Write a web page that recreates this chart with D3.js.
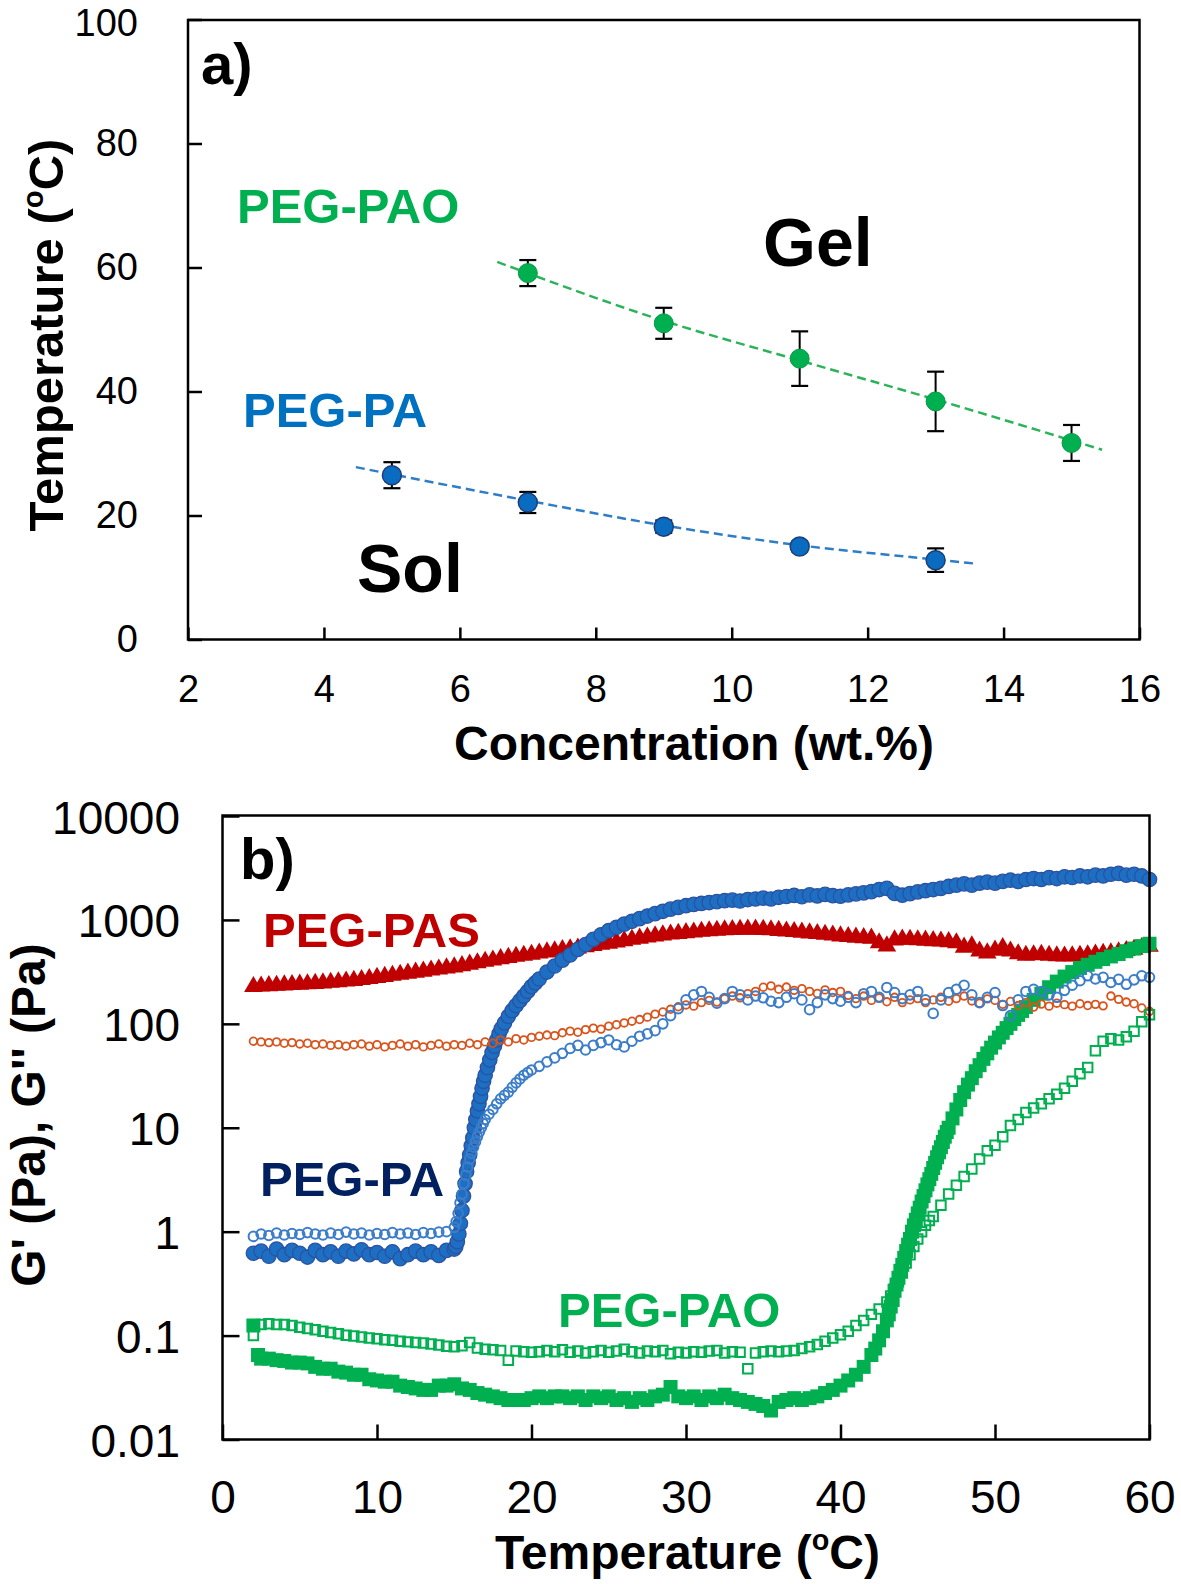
<!DOCTYPE html>
<html><head><meta charset="utf-8">
<script src="https://cdn.jsdelivr.net/npm/d3@7"></script>
<style>
html,body{margin:0;padding:0;background:#fff;}
svg{display:block;font-family:"Liberation Sans",Arial,sans-serif;}
</style></head><body>
<svg id="chart" width="1181" height="1584"></svg>
<script>
// ---------- Panel a data ----------
const concTicks = [2, 4, 6, 8, 10, 12, 14, 16];
const tempTicksA = [0, 20, 40, 60, 80, 100];
const concPAO = [7, 9, 11, 13, 15];
const tgelPAO = [59.1, 51.0, 45.3, 38.4, 31.7];
const errPAO = [2.1, 2.5, 4.4, 4.8, 2.9];
const concPA = [5, 7, 9, 11, 13];
const tgelPA = [26.5, 22.1, 18.2, 15.0, 12.8];
const errPA = [2.1, 1.7, 1.0, 0.8, 1.9];
const fitPAO = [[6.55, 60.9], [9, 51.4], [11, 45.0], [13, 38.7], [15.45, 30.6]];
const fitPA = [[4.47, 27.8], [7, 22.4], [9, 18.4], [11, 15.2], [13, 12.9], [13.62, 12.2]];

// ---------- Panel b data ----------
const tempTicksB = [0, 10, 20, 30, 40, 50, 60];
const modTicks = [0.01, 0.1, 1, 10, 100, 1000, 10000];
const modTickLabels = ["0.01", "0.1", "1", "10", "100", "1000", "10000"];

// PEG-PAS G' (filled triangles)
const pasGp = [[2,228],[2.5,230],[3,232],[3.5,234],[4,236],[4.5,238],[5,240],[5.5,242],[6,244],[6.5,247],[7,250],[7.5,253],[8,257],[8.5,261],[9,266],[9.5,272],[10,279],[10.5,285],[11,292],[11.5,299],[12,306],[12.5,313],[13,320],[13.5,328],[14,336],[14.5,344],[15,352],[15.5,362],[16,374],[16.5,386],[17,398],[17.5,410],[18,422],[18.5,434],[19,445],[19.5,455],[20,465],[20.5,478],[21,490],[21.5,502],[22,515],[22.5,525],[23,535],[23.5,550],[24,565],[24.5,580],[25,595],[25.5,612],[26,630],[26.5,648],[27,665],[27.5,682],[28,700],[28.5,714],[29,728],[29.5,740],[30,752],[30.5,763],[31,774],[31.5,784],[32,792],[32.5,800],[33,806],[33.5,810],[34,812],[34.5,812],[35,808],[35.5,800],[36,790],[36.5,780],[37,770],[37.5,760],[38,748],[38.5,736],[39,725],[39.5,712],[40,700],[40.5,690],[41,680],[41.5,672],[42,665],[42.5,600],[43,560],[43.5,640],[44,650],[44.5,648],[45,642],[45.5,636],[46,630],[46.5,625],[47,615],[47.5,600],[48,545],[48.5,560],[49,500],[49.5,480],[50,510],[50.5,540],[51,500],[51.5,470],[52,455],[52.5,460],[53,465],[53.5,455],[54,450],[54.5,448],[55,450],[55.5,455],[56,460],[56.5,468],[57,475],[57.5,480],[58,490],[58.5,505],[59,520],[59.5,540],[60,555]];

// PEG-PAS G'' (small open circles)
const pasGpp = [[2,68],[2.5,67],[3,66],[3.5,67],[4,65],[4.5,66],[5,64],[5.5,65],[6,63],[6.5,64],[7,62],[7.5,63],[8,61],[8.5,63],[9,64],[9.5,61],[10,63],[10.5,60],[11,62],[11.5,64],[12,61],[12.5,63],[13,60],[13.5,62],[14,64],[14.5,61],[15,63],[15.5,62],[16,65],[16.5,63],[17,67],[17.5,65],[18,70],[18.5,67],[19,72],[19.5,70],[20,74],[20.5,76],[21,78],[21.5,77],[22,82],[22.5,85],[23,83],[23.5,88],[24,91],[24.5,89],[25,95],[25.5,98],[26,102],[26.5,106],[27,110],[27.5,116],[28,124],[28.5,130],[29,138],[29.5,146],[30,152],[30.5,148],[31,160],[31.5,168],[32,162],[32.5,175],[33,185],[33.5,178],[34,195],[34.5,205],[35,225],[35.5,232],[36,215],[36.5,226],[37,210],[37.5,218],[38,205],[38.5,196],[39,212],[39.5,200],[40,205],[40.5,188],[41,175],[41.5,185],[42,168],[42.5,178],[43,163],[43.5,180],[44,160],[44.5,170],[45,175],[45.5,160],[46,170],[46.5,180],[47,165],[47.5,175],[48,185],[48.5,166],[49,158],[49.5,174],[50,168],[50.5,154],[51,164],[51.5,150],[52,160],[52.5,145],[53,155],[53.5,148],[54,158],[54.5,153],[55,148],[55.5,156],[56,150],[56.5,154],[57,149],[57.5,185],[58,172],[58.5,162],[59,156],[59.5,142],[60,132]];

// PEG-PA G' (filled circles)
const paGp = [[2,0.62],[2.5,0.65],[3,0.58],[3.5,0.68],[4,0.6],[4.5,0.66],[5,0.62],[5.5,0.57],[6,0.66],[6.5,0.6],[7,0.64],[7.5,0.58],[8,0.65],[8.5,0.61],[9,0.67],[9.5,0.6],[10,0.63],[10.5,0.58],[11,0.64],[11.5,0.55],[12,0.6],[12.5,0.65],[13,0.6],[13.5,0.64],[14,0.59],[14.5,0.66],[15,0.68],[15.1,0.72],[15.2,0.8],[15.3,0.95],[15.4,1.2],[15.5,1.6],[15.6,2.2],[15.7,2.9],[15.8,3.8],[15.9,4.6],[16,5.5],[16.1,6.7],[16.2,8],[16.3,10],[16.4,12],[16.5,14.5],[16.6,17],[16.7,20],[16.8,24],[16.9,28],[17,32],[17.15,38],[17.3,45],[17.45,53],[17.6,61],[17.75,70],[17.9,80],[18.05,90],[18.25,102],[18.5,118],[18.75,134],[19,150],[19.25,167],[19.5,185],[19.75,205],[20,228],[20.25,248],[20.5,270],[21,315],[21.5,360],[22,410],[22.5,460],[23,520],[23.5,580],[24,650],[24.5,720],[25,790],[25.5,850],[26,910],[26.5,970],[27,1030],[27.5,1090],[28,1150],[28.5,1210],[29,1270],[29.5,1320],[30,1370],[30.5,1410],[31,1440],[31.5,1470],[32,1500],[32.5,1530],[33,1550],[33.5,1520],[34,1570],[34.5,1590],[35,1620],[35.5,1590],[36,1650],[36.5,1680],[37,1720],[37.5,1670],[38,1740],[38.5,1700],[39,1760],[39.5,1710],[40,1690],[40.5,1740],[41,1780],[41.5,1820],[42,1870],[42.5,1960],[43,2010],[43.5,1800],[44,1730],[44.5,1790],[45,1860],[45.5,1910],[46,1960],[46.5,2010],[47,2100],[47.5,2160],[48,2220],[48.5,2160],[49,2260],[49.5,2310],[50,2260],[50.5,2350],[51,2410],[51.5,2350],[52,2450],[52.5,2500],[53,2450],[53.5,2550],[54,2500],[54.5,2600],[55,2560],[55.5,2650],[56,2600],[56.5,2700],[57,2650],[57.5,2750],[58,2800],[58.5,2700],[59,2750],[59.5,2650],[60,2450]];

// PEG-PA G'' (open circles)
const paGpp = [[2,0.9],[2.5,0.95],[3,0.92],[3.5,0.97],[4,0.93],[4.5,0.96],[5,0.94],[5.5,0.98],[6,0.95],[6.5,0.93],[7,0.97],[7.5,0.94],[8,0.99],[8.5,0.95],[9,0.97],[9.5,0.93],[10,0.96],[10.5,0.94],[11,0.98],[11.5,0.95],[12,0.97],[12.5,0.94],[13,0.98],[13.5,0.96],[14,0.99],[14.5,1.0],[15,1.1],[15.125,1.25],[15.25,1.5],[15.375,1.9],[15.5,2.3],[15.625,2.9],[15.75,3.5],[15.875,4.2],[16,5.0],[16.125,5.7],[16.25,6.5],[16.375,7.3],[16.5,8.2],[16.625,9.1],[16.75,10],[16.875,11],[17,12],[17.25,13.5],[17.5,15],[17.75,17],[18,19],[18.25,20.5],[18.5,22],[18.75,24.5],[19,27],[19.25,29.5],[19.5,32],[19.75,34],[20,36],[20.5,39],[21,43],[21.5,47],[22,52],[22.5,58],[23,62],[23.5,56],[24,62],[24.5,66],[25,70],[25.5,63],[26,60],[26.5,68],[27,76],[27.5,80],[28,86],[28.5,100],[29,120],[29.5,140],[30,170],[30.5,190],[31,205],[31.5,180],[32,158],[32.5,175],[33,205],[33.5,190],[34,170],[34.5,185],[35,178],[35.5,165],[36,160],[36.5,180],[37,195],[37.5,170],[38,137],[38.5,160],[39,190],[39.5,175],[40,165],[40.5,180],[41,160],[41.5,195],[42,205],[42.5,180],[43,224],[43.5,200],[44,175],[44.5,190],[45,205],[45.5,170],[46,126],[46.5,170],[47,200],[47.5,215],[48,235],[48.5,190],[49,160],[49.5,180],[50,200],[50.5,150],[51,120],[51.5,170],[52,205],[52.5,215],[53,205],[53.5,190],[54,180],[54.5,210],[55,235],[55.5,260],[56,290],[56.5,270],[57,280],[57.5,250],[58,268],[58.5,240],[59,265],[59.5,290],[60,280]];

// PEG-PAO G' (filled squares)
const paoGp = [[2,0.125],[2.3,0.065],[2.5,0.06],[3,0.06],[3.5,0.058],[4,0.057],[4.5,0.055],[5,0.055],[5.5,0.054],[6,0.05],[6.5,0.048],[7,0.048],[7.5,0.045],[8,0.044],[8.5,0.042],[9,0.042],[9.5,0.038],[10,0.037],[10.5,0.036],[11,0.036],[11.5,0.033],[12,0.032],[12.5,0.031],[13,0.03],[13.5,0.03],[14,0.033],[14.5,0.033],[15,0.034],[15.5,0.031],[16,0.03],[16.5,0.028],[17,0.027],[17.5,0.026],[18,0.025],[18.5,0.024],[19,0.024],[19.5,0.024],[20,0.025],[20.5,0.026],[21,0.025],[21.5,0.026],[22,0.026],[22.5,0.025],[23,0.026],[23.5,0.024],[24,0.026],[24.5,0.025],[25,0.026],[25.5,0.024],[26,0.025],[26.5,0.023],[27,0.025],[27.5,0.024],[28,0.026],[28.5,0.027],[29,0.032],[29.5,0.026],[30,0.025],[30.5,0.026],[31,0.024],[31.5,0.026],[32,0.025],[32.5,0.027],[33,0.025],[33.5,0.024],[34,0.023],[34.5,0.022],[35,0.021],[35.5,0.019],[36,0.023],[36.5,0.024],[37,0.025],[37.5,0.024],[38,0.025],[38.5,0.026],[39,0.028],[39.5,0.03],[40,0.033],[40.5,0.037],[41,0.042],[41.5,0.05],[42,0.065],[42.25,0.075],[42.5,0.09],[42.75,0.11],[43,0.14],[43.125,0.16],[43.25,0.19],[43.375,0.22],[43.5,0.27],[43.625,0.31],[43.75,0.36],[43.875,0.42],[44,0.48],[44.125,0.56],[44.25,0.65],[44.375,0.75],[44.5,0.85],[44.625,1.0],[44.75,1.15],[44.875,1.3],[45,1.5],[45.125,1.7],[45.25,1.95],[45.375,2.2],[45.5,2.5],[45.625,2.85],[45.75,3.2],[45.875,3.6],[46,4.1],[46.125,4.6],[46.25,5.2],[46.375,5.8],[46.5,6.5],[46.625,7.3],[46.75,8.2],[46.875,9.1],[47,10],[47.25,12.3],[47.5,15],[47.75,18.5],[48,22],[48.25,26],[48.5,30],[48.75,35],[49,40],[49.25,46],[49.5,52],[49.75,59],[50,66],[50.25,74],[50.5,82],[50.75,91],[51,100],[51.25,111],[51.5,122],[51.75,133],[52,145],[52.5,170],[53,195],[53.5,225],[54,255],[54.5,285],[55,315],[55.5,345],[56,370],[56.5,395],[57,420],[57.5,445],[58,470],[58.5,500],[59,530],[59.5,560],[60,590]];

// PEG-PAO G'' (open squares)
const paoGpp = [[2,0.1],[2.5,0.128],[3,0.13],[3.5,0.128],[4,0.128],[4.5,0.125],[5,0.12],[5.5,0.117],[6,0.114],[6.5,0.11],[7,0.107],[7.5,0.104],[8,0.101],[8.5,0.099],[9,0.097],[9.5,0.095],[10,0.093],[10.5,0.091],[11,0.09],[11.5,0.088],[12,0.087],[12.5,0.086],[13,0.085],[13.5,0.083],[14,0.081],[14.5,0.079],[15,0.078],[15.5,0.08],[16,0.086],[16.5,0.076],[17,0.074],[17.5,0.073],[18,0.072],[18.5,0.058],[19,0.071],[19.5,0.07],[20,0.069],[20.5,0.07],[21,0.072],[21.5,0.07],[22,0.073],[22.5,0.069],[23,0.071],[23.5,0.068],[24,0.07],[24.5,0.072],[25,0.069],[25.5,0.071],[26,0.074],[26.5,0.07],[27,0.068],[27.5,0.071],[28,0.07],[28.5,0.072],[29,0.067],[29.5,0.069],[30,0.068],[30.5,0.07],[31,0.069],[31.5,0.071],[32,0.072],[32.5,0.068],[33,0.07],[33.5,0.069],[34,0.048],[34.5,0.068],[35,0.07],[35.5,0.071],[36,0.07],[36.5,0.071],[37,0.072],[37.5,0.075],[38,0.078],[38.5,0.082],[39,0.088],[39.5,0.095],[40,0.102],[40.5,0.11],[41,0.125],[41.5,0.14],[42,0.16],[42.5,0.18],[43,0.21],[43.25,0.24],[43.5,0.28],[43.75,0.33],[44,0.4],[44.25,0.5],[44.5,0.6],[44.75,0.72],[45,0.85],[45.25,1.0],[45.5,1.15],[45.75,1.28],[46,1.4],[46.5,1.8],[47,2.3],[47.5,2.8],[48,3.4],[48.5,4.0],[49,5.0],[49.5,6.0],[50,6.8],[50.5,8.2],[51,10.5],[51.5,12],[52,14],[52.5,15.5],[53,17],[53.5,19],[54,21],[54.5,24],[55,28],[55.5,33],[56,38],[56.5,55],[57,68],[57.5,72],[58,70],[58.5,75],[59,85],[59.5,105],[60,122]];

// ---------- colours ----------
const cGreen = "#00b050", cBlue = "#0070c0", cRed = "#c00000", cNavy = "#002060";

const svg = d3.select("#chart");

// ================= Panel a =================
const xA = d3.scaleLinear().domain([2, 16]).range([188, 1139.5]);
const yA = d3.scaleLinear().domain([0, 100]).range([639.5, 19.5]);

const gA = svg.append("g");

const lineA = d3.line().x(d => xA(d[0])).y(d => yA(d[1])).curve(d3.curveMonotoneX);
gA.append("path").attr("d", lineA(fitPAO)).attr("fill", "none")
  .attr("stroke", "#2cb35a").attr("stroke-width", 2.5).attr("stroke-dasharray", "9,5");
gA.append("path").attr("d", lineA(fitPA)).attr("fill", "none")
  .attr("stroke", "#2f7dc6").attr("stroke-width", 2.5).attr("stroke-dasharray", "9,5");

function errBars(g, xs, ys, es) {
  xs.forEach((c, i) => {
    const x = xA(c), y1 = yA(ys[i] + es[i]), y2 = yA(ys[i] - es[i]);
    g.append("line").attr("x1", x).attr("x2", x).attr("y1", y1).attr("y2", y2)
      .attr("stroke", "#000").attr("stroke-width", 2);
    [y1, y2].forEach(y => g.append("line").attr("x1", x - 8.5).attr("x2", x + 8.5)
      .attr("y1", y).attr("y2", y).attr("stroke", "#000").attr("stroke-width", 2.2));
  });
}
errBars(gA, concPAO, tgelPAO, errPAO);
errBars(gA, concPA, tgelPA, errPA);

gA.selectAll("circle.pao").data(concPAO).join("circle")
  .attr("cx", d => xA(d)).attr("cy", (d, i) => yA(tgelPAO[i])).attr("r", 9.5)
  .attr("fill", cGreen).attr("stroke", "#0a9a45").attr("stroke-width", 1);
gA.selectAll("circle.pa").data(concPA).join("circle")
  .attr("cx", d => xA(d)).attr("cy", (d, i) => yA(tgelPA[i])).attr("r", 9.5)
  .attr("fill", "#0a6cc0").attr("stroke", "#1c3f7a").attr("stroke-width", 1.5);

gA.append("rect").attr("x", 188).attr("y", 20).attr("width", 951.5).attr("height", 619.5)
  .attr("fill", "none").attr("stroke", "#000").attr("stroke-width", 2.5);

const axYA = gA.append("g").attr("transform", "translate(188,0)")
  .call(d3.axisLeft(yA).tickValues(tempTicksA).tickSizeInner(-14).tickSizeOuter(0).tickPadding(50).tickFormat(d3.format("d")));
const axXA = gA.append("g").attr("transform", "translate(0,639.5)")
  .call(d3.axisBottom(xA).tickValues(concTicks).tickSizeInner(-12).tickSizeOuter(0).tickPadding(36).tickFormat(d3.format("d")));
[axYA, axXA].forEach(ax => {
  ax.select(".domain").remove();
  ax.selectAll("line").attr("stroke", "#000").attr("stroke-width", 2.5);
  ax.selectAll("text").attr("font-size", 38).attr("fill", "#000")
    .attr("font-family", "Liberation Sans, Arial, sans-serif");
});
axYA.selectAll("text").attr("dy", d => d === 100 ? "0.41em" : "0.32em");

gA.append("text").attr("x", 201).attr("y", 84).attr("font-size", 58).attr("font-weight", "bold").text("a)");
gA.append("text").attr("x", 237).attr("y", 223).attr("font-size", 49).attr("font-weight", "bold")
  .attr("fill", cGreen).text("PEG-PAO");
gA.append("text").attr("x", 243).attr("y", 427).attr("font-size", 49).attr("font-weight", "bold")
  .attr("fill", cBlue).text("PEG-PA");
gA.append("text").attr("x", 763).attr("y", 266).attr("font-size", 68).attr("font-weight", "bold").text("Gel");
gA.append("text").attr("x", 357).attr("y", 592).attr("font-size", 68).attr("font-weight", "bold").text("Sol");

gA.append("text").attr("x", 694).attr("y", 760).attr("text-anchor", "middle")
  .attr("font-size", 48).attr("font-weight", "bold").text("Concentration (wt.%)");

function tempTitle(g, transform, size) {
  const t = g.append("text").attr("transform", transform).attr("text-anchor", "middle")
    .attr("font-size", size).attr("font-weight", "bold");
  t.append("tspan").text("Temperature (");
  const up = size * 0.4;
  t.append("tspan").attr("font-size", size * 0.6).attr("dy", -up).text("o");
  t.append("tspan").attr("dy", up).text("C)");
  return t;
}
tempTitle(gA, "translate(63,335) rotate(-90)", 49);

// ================= Panel b =================
const xB = d3.scaleLinear().domain([0, 60]).range([222.5, 1149.5]);
const yB = d3.scaleLog().domain([0.01, 10000]).range([1439.5, 816]);
const gB = svg.append("g");

const sym = (type, size) => d3.symbol().type(type).size(size)();
const triPath = sym(d3.symbolTriangle, 150);
const sqFill = sym(d3.symbolSquare, 196);
const sqOpen = sym(d3.symbolSquare, 90);

const plot = gB.append("g");
plot.selectAll("path.pasGp").data(pasGp).join("path")
  .attr("d", triPath).attr("transform", d => `translate(${xB(d[0])},${yB(d[1])})`)
  .attr("fill", cRed);
plot.selectAll("circle.paGp").data(paGp).join("circle")
  .attr("cx", d => xB(d[0])).attr("cy", d => yB(d[1])).attr("r", 7.2)
  .attr("fill", "#1d6fc3").attr("stroke", "#2b52a0").attr("stroke-width", 1.3);
plot.selectAll("path.paoGp").data(paoGp).join("path")
  .attr("d", sqFill).attr("transform", d => `translate(${xB(d[0])},${yB(d[1])})`)
  .attr("fill", cGreen);
plot.selectAll("circle.pasGpp").data(pasGpp).join("circle")
  .attr("cx", d => xB(d[0])).attr("cy", d => yB(d[1])).attr("r", 3.8)
  .attr("fill", "none").attr("stroke", "#d9541c").attr("stroke-width", 1.8);
plot.selectAll("circle.paGpp").data(paGpp).join("circle")
  .attr("cx", d => xB(d[0])).attr("cy", d => yB(d[1])).attr("r", 4.8)
  .attr("fill", "none").attr("stroke", "#3b7dc9").attr("stroke-width", 2);
plot.selectAll("path.paoGpp").data(paoGpp).join("path")
  .attr("d", sqOpen).attr("transform", d => `translate(${xB(d[0])},${yB(d[1])})`)
  .attr("fill", "none").attr("stroke", cGreen).attr("stroke-width", 2);

gB.append("rect").attr("x", 222.5).attr("y", 815.5).attr("width", 927).attr("height", 624)
  .attr("fill", "none").attr("stroke", "#000").attr("stroke-width", 2.5);

const axYB = gB.append("g").attr("transform", "translate(222.5,0)")
  .call(d3.axisLeft(yB).tickValues(modTicks).tickSizeInner(-17).tickSizeOuter(0).tickPadding(42.5)
    .tickFormat((d, i) => modTickLabels[i]));
const axXB = gB.append("g").attr("transform", "translate(0,1439.5)")
  .call(d3.axisBottom(xB).tickValues(tempTicksB).tickSizeInner(-15).tickSizeOuter(0).tickPadding(41).tickFormat(d3.format("d")));
[axYB, axXB].forEach(ax => {
  ax.select(".domain").remove();
  ax.selectAll("line").attr("stroke", "#000").attr("stroke-width", 2.5);
  ax.selectAll("text").attr("font-size", 46).attr("fill", "#000")
    .attr("font-family", "Liberation Sans, Arial, sans-serif");
});
axYB.selectAll("text").attr("dy", "0.37em");

gB.append("text").attr("x", 240).attr("y", 879).attr("font-size", 58).attr("font-weight", "bold").text("b)");
gB.append("text").attr("x", 263).attr("y", 947).attr("font-size", 49).attr("font-weight", "bold")
  .attr("fill", cRed).text("PEG-PAS");
gB.append("text").attr("x", 260).attr("y", 1196).attr("font-size", 49).attr("font-weight", "bold")
  .attr("fill", cNavy).text("PEG-PA");
gB.append("text").attr("x", 558).attr("y", 1327).attr("font-size", 49).attr("font-weight", "bold")
  .attr("fill", cGreen).text("PEG-PAO");

tempTitle(gB, "translate(687.5,1569)", 48);
gB.append("text").attr("transform", "translate(45,1115) rotate(-90)").attr("text-anchor", "middle")
  .attr("font-size", 48).attr("font-weight", "bold").text("G' (Pa), G'' (Pa)");
</script></body></html>
